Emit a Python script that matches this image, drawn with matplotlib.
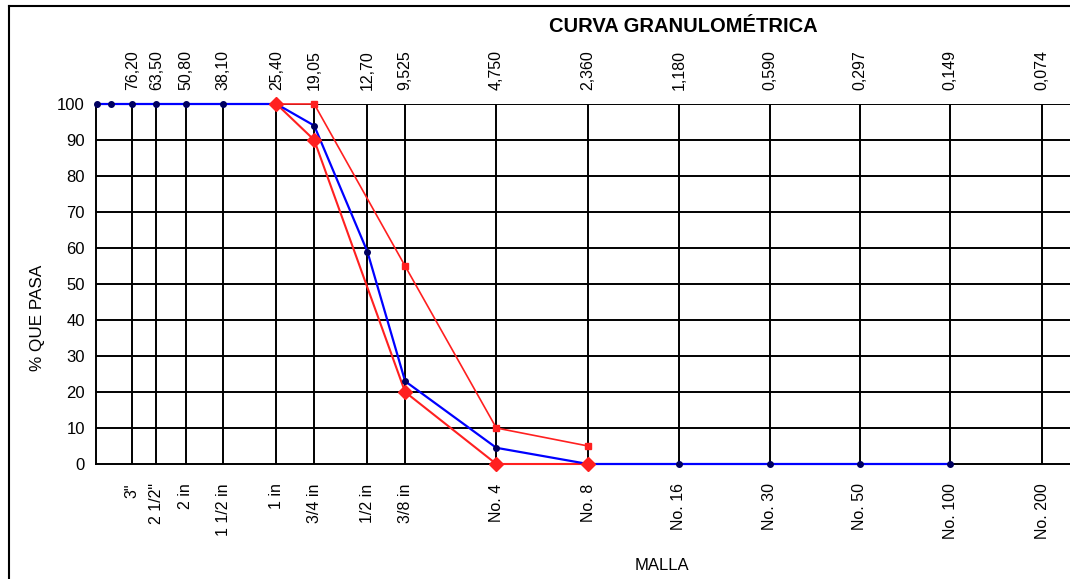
import matplotlib
matplotlib.use("Agg")
import matplotlib.pyplot as plt
from matplotlib.lines import Line2D

plt.rcParams['font.family'] = ['Liberation Sans', 'DejaVu Sans']

# sieve openings (mm) and names
sieve_mm = [76.20, 63.50, 50.80, 38.10, 25.40, 19.05, 12.70, 9.525,
            4.750, 2.360, 1.180, 0.590, 0.297, 0.149, 0.074]
mm_labels = ["76,20", "63,50", "50,80", "38,10", "25,40", "19,05", "12,70", "9,525",
             "4,750", "2,360", "1,180", "0,590", "0,297", "0,149", "0,074"]
sieve_names = ['3"', '2 1/2"', '2 in', '1 1/2 in', '1 in', '3/4 in', '1/2 in', '3/8 in',
               'No. 4', 'No. 8', 'No. 16', 'No. 30', 'No. 50', 'No. 100', 'No. 200']

# sample curve
sample_mm = [100, 90, 76.20, 63.50, 50.80, 38.10, 25.40, 19.05, 12.70, 9.525,
             4.750, 2.360, 1.180, 0.590, 0.297, 0.149]
sample_pass = [100, 100, 100, 100, 100, 100, 100, 94, 59, 23, 4.5, 0, 0, 0, 0, 0]

# specification limits
upper_mm = [25.40, 19.05, 9.525, 4.750, 2.360]
upper_pass = [100, 100, 55, 10, 5]
lower_mm = [25.40, 19.05, 9.525, 4.750, 2.360]
lower_pass = [100, 90, 20, 0, 0]

W, H = 1070, 579
fig = plt.figure(figsize=(W / 100, H / 100), dpi=100)
ax = fig.add_axes([96 / W, 1 - 464 / H, 978 / W, 360 / H])

ax.set_xscale('log')
ax.set_xlim(100.6, 0.058)
ax.set_ylim(0, 100)

# grid
for y in range(10, 101, 10):
    ax.axhline(y, color='black', lw=1.4, zorder=1)
for x in sieve_mm:
    ax.axvline(x, color='black', lw=1.4, zorder=1)

ax.plot(upper_mm, upper_pass, color='#ff2020', lw=1.2, marker='s', ms=5,
        zorder=3, clip_on=False)
ax.plot(lower_mm, lower_pass, color='#ff2020', lw=1.5, zorder=3, clip_on=False)
ax.plot(sample_mm, sample_pass, color='#0000ff', lw=1.6, marker='o', ms=4,
        mfc='#000060', mec='#000060', zorder=4, clip_on=False)
# lower-limit markers sit above the sample curve
ax.plot(lower_mm, lower_pass, ls='none', color='#ff2020', marker='D', ms=7,
        zorder=5, clip_on=False)

for s in ['top', 'right']:
    ax.spines[s].set_visible(False)
ax.spines['left'].set_linewidth(1.4)
ax.spines['bottom'].set_linewidth(1.4)

ax.set_yticks(range(0, 101, 10))
ax.tick_params(axis='y', length=0, pad=8, labelsize=12)
ax.set_xticks(sieve_mm)
ax.set_xticklabels(sieve_names, rotation=90, va='top')
ax.xaxis.set_minor_locator(matplotlib.ticker.NullLocator())
ax.tick_params(axis='x', length=0, pad=14, labelsize=11.5)

top = ax.secondary_xaxis('top')
top.set_xticks(sieve_mm)
top.set_xticklabels(mm_labels, rotation=90)
top.xaxis.set_minor_locator(matplotlib.ticker.NullLocator())
top.tick_params(length=0, pad=10, labelsize=11.5)
top.spines['top'].set_visible(False)

ax.set_ylabel('% QUE PASA', fontsize=12.3)
ax.yaxis.set_label_coords(-0.052, 0.405)

fig.text(683 / W, 1 - 27 / H, 'CURVA GRANULOMÉTRICA', ha='center', va='center',
         fontsize=14.5, fontweight='bold')
fig.text(662 / W, 1 - 565 / H, 'MALLA', ha='center', va='center', fontsize=12)

# outer frame
fig.add_artist(Line2D([9 / W, 1.0], [1 - 6 / H] * 2, color='black', lw=1.5,
                      transform=fig.transFigure))
fig.add_artist(Line2D([9 / W] * 2, [0, 1 - 6 / H], color='black', lw=1.5,
                      transform=fig.transFigure))

fig.savefig('out.png', dpi=100)
